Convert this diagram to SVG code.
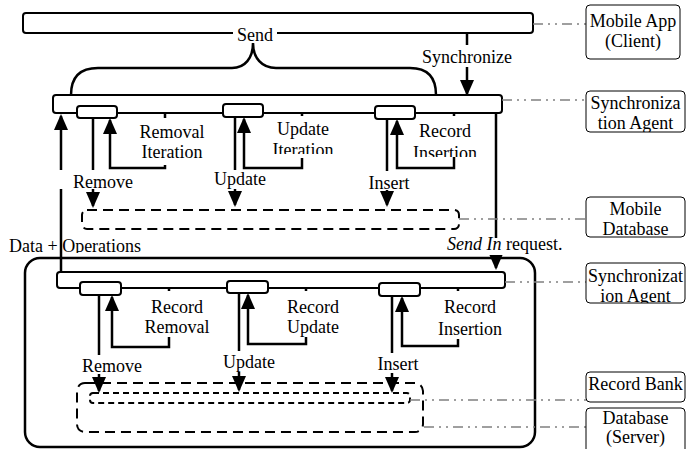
<svg xmlns="http://www.w3.org/2000/svg" width="686" height="449" viewBox="0 0 686 449">
<style>
.bar{fill:#fff;stroke:#000;stroke-width:2}
.sb{fill:#fff;stroke:#000;stroke-width:2}
.ln{fill:none;stroke:#000;stroke-width:2.5}
.arr{marker-end:url(#ah)}
.t{font-family:"Liberation Serif","Times New Roman",serif;font-size:18px;fill:#000}
.c{text-anchor:middle}
.bg{fill:#fff}
.dash{fill:none;stroke:#000;stroke-width:2;stroke-dasharray:10 6}
.dash2{fill:none;stroke:#000;stroke-width:2;stroke-dasharray:6 4}
.conn{fill:none;stroke:#808080;stroke-width:1.6;stroke-dasharray:10 5 2 5 2 5}
.side{fill:#fff;stroke:#000;stroke-width:1}
.cont{fill:none;stroke:#000;stroke-width:2.5}
</style>
<defs>
<marker id="ah" viewBox="0 0 16 14" refX="14" refY="7" markerWidth="16" markerHeight="14" markerUnits="userSpaceOnUse" orient="auto">
<path d="M0,0 L16,7 L0,14 z" fill="#000"/>
</marker>
<clipPath id="k1"><rect x="586" y="5" width="94" height="54" rx="4"/></clipPath>
<clipPath id="k2"><rect x="586" y="91" width="99" height="41" rx="4"/></clipPath>
<clipPath id="k3"><rect x="586" y="197" width="99" height="40" rx="4"/></clipPath>
<clipPath id="k4"><rect x="586" y="263" width="99" height="40" rx="4"/></clipPath>
<clipPath id="k5"><rect x="586" y="372" width="99" height="30" rx="4"/></clipPath>
<clipPath id="k6"><rect x="586" y="408" width="99" height="50" rx="4"/></clipPath>
<clipPath id="kl1"><rect x="270" y="114" width="66" height="40"/></clipPath>
<clipPath id="kl2"><rect x="410" y="114" width="72" height="43"/></clipPath>
<clipPath id="kl3"><rect x="0" y="230" width="200" height="23"/></clipPath>
</defs>

<g id="server-container"><rect class="cont" x="25" y="258" width="510" height="189" rx="15"/></g>
<g id="mobile-app-bar"><rect class="bar" x="23" y="13" width="510" height="20" rx="3"/></g>
<g id="client-agent-bar"><rect class="bar" x="53" y="95" width="449" height="18" rx="3"/></g>
<g id="server-agent-bar"><rect class="bar" x="57" y="272" width="448" height="16" rx="3"/></g>
<g id="mobile-database"><rect class="dash" x="82" y="210" width="377" height="19" rx="5"/></g>
<g id="server-database"><rect class="dash" x="77" y="383" width="346" height="49" rx="8"/></g>
<g id="record-bank"><rect class="dash2" x="90" y="393" width="320" height="10" rx="3"/></g>

<g id="connectors">
<path class="ln" d="M71,95 Q71,68 98,68 L232,68 C245,68 253,58 253,43 C253,58 262,68 276,68 L410,68 Q436,68 436,95"/>
<line class="ln arr" x1="467" y1="33" x2="467" y2="94"/>
<line class="ln arr" x1="61" y1="272" x2="61" y2="116"/>
<line class="ln arr" x1="496" y1="113" x2="496" y2="268"/>
<line class="ln arr" x1="93" y1="118" x2="93" y2="206"/>
<path class="ln arr" d="M165,113 L165,168 L110,168 L110,120"/>
<line class="ln arr" x1="235" y1="117" x2="235" y2="205"/>
<path class="ln arr" d="M302,113 L302,168 L244,168 L244,119"/>
<line class="ln arr" x1="387" y1="119" x2="387" y2="205"/>
<path class="ln arr" d="M454,113 L454,168 L397,168 L397,121"/>
<line class="ln arr" x1="99" y1="295" x2="99" y2="391"/>
<path class="ln arr" d="M169,288 L169,347 L112,347 L112,297"/>
<line class="ln arr" x1="239" y1="293" x2="239" y2="390"/>
<path class="ln arr" d="M306,288 L306,344 L248,344 L248,295"/>
<line class="ln arr" x1="392" y1="296" x2="392" y2="391"/>
<path class="ln arr" d="M458,288 L458,346 L402,346 L402,298"/>
<line class="conn" x1="533" y1="24" x2="586" y2="24"/>
<line class="conn" x1="502" y1="100" x2="586" y2="100"/>
<line class="conn" x1="459" y1="219" x2="586" y2="219"/>
<line class="conn" x1="505" y1="282" x2="586" y2="282"/>
<line class="conn" x1="410" y1="400" x2="586" y2="400"/>
<line class="conn" x1="424" y1="427" x2="586" y2="427"/>
</g>

<g id="labels">
<rect class="bg" x="233" y="26" width="44" height="16"/>
<text class="t c" x="255" y="41">Send</text>
<rect class="bg" x="420" y="45" width="94" height="22"/>
<text class="t c" x="467" y="63">Synchronize</text>
<rect class="bg" x="140" y="118" width="66" height="47"/>
<text class="t c" x="172" y="138">Removal</text>
<text class="t c" x="172" y="158">Iteration</text>
<rect class="bg" x="272" y="116" width="62" height="42"/>
<g clip-path="url(#kl1)"><text class="t c" x="303" y="135">Update</text><text class="t c" x="303" y="156">Iteration</text></g>
<rect class="bg" x="412" y="116" width="68" height="41"/>
<g clip-path="url(#kl2)"><text class="t c" x="445" y="137">Record</text><text class="t c" x="445" y="159">Insertion</text></g>
<rect class="bg" x="58" y="170" width="90" height="19"/>
<text class="t c" x="103" y="188">Remove</text>
<rect class="bg" x="212" y="170" width="56" height="19"/>
<text class="t c" x="240" y="185">Update</text>
<rect class="bg" x="366" y="171" width="46" height="19"/>
<text class="t c" x="389" y="189">Insert</text>
<g clip-path="url(#kl3)"><text class="t" x="9" y="252">Data + Operations</text></g>
<rect class="bg" x="445" y="238" width="119" height="17"/>
<text class="t" x="447" y="250"><tspan font-style="italic">Send In</tspan> request.</text>
<rect class="bg" x="143" y="291" width="68" height="46"/>
<text class="t c" x="177" y="313">Record</text>
<text class="t c" x="177" y="333">Removal</text>
<rect class="bg" x="285" y="291" width="56" height="46"/>
<text class="t c" x="313" y="313">Record</text>
<text class="t c" x="313" y="333">Update</text>
<rect class="bg" x="437" y="291" width="66" height="48"/>
<text class="t c" x="470" y="313">Record</text>
<text class="t c" x="470" y="335">Insertion</text>
<rect class="bg" x="81" y="355" width="62" height="19"/>
<text class="t c" x="112" y="372">Remove</text>
<rect class="bg" x="222" y="351" width="54" height="21"/>
<text class="t c" x="249" y="368">Update</text>
<rect class="bg" x="376" y="353" width="44" height="20"/>
<text class="t c" x="398" y="370">Insert</text>
</g>

<g id="client-remove-box"><rect class="sb" x="77" y="106" width="40" height="12" rx="3"/></g>
<g id="client-update-box"><rect class="sb" x="223" y="104" width="40" height="13" rx="3"/></g>
<g id="client-insert-box"><rect class="sb" x="375" y="106" width="40" height="13" rx="3"/></g>
<g id="server-remove-box"><rect class="sb" x="80" y="282" width="41" height="13" rx="3"/></g>
<g id="server-update-box"><rect class="sb" x="227" y="281" width="41" height="12" rx="3"/></g>
<g id="server-insert-box"><rect class="sb" x="379" y="283" width="41" height="13" rx="3"/></g>

<g id="legend-mobile-app"><rect class="side" x="586" y="5" width="94" height="54" rx="4"/><g clip-path="url(#k1)"><text class="t c" x="633" y="27">Mobile App</text><text class="t c" x="633" y="47">(Client)</text></g></g>
<g id="legend-sync-agent-1"><rect class="side" x="586" y="91" width="99" height="41" rx="4"/><g clip-path="url(#k2)"><text class="t c" x="635.5" y="109">Synchroniza</text><text class="t c" x="635.5" y="129">tion Agent</text></g></g>
<g id="legend-mobile-db"><rect class="side" x="586" y="197" width="99" height="40" rx="4"/><g clip-path="url(#k3)"><text class="t c" x="635.5" y="215">Mobile</text><text class="t c" x="635.5" y="235">Database</text></g></g>
<g id="legend-sync-agent-2"><rect class="side" x="586" y="263" width="99" height="40" rx="4"/><g clip-path="url(#k4)"><text class="t c" x="635.5" y="282">Synchronizat</text><text class="t c" x="635.5" y="302">ion Agent</text></g></g>
<g id="legend-record-bank"><rect class="side" x="586" y="372" width="99" height="30" rx="4"/><g clip-path="url(#k5)"><text class="t c" x="635.5" y="390">Record Bank</text></g></g>
<g id="legend-server-db"><rect class="side" x="586" y="408" width="99" height="50" rx="4"/><g clip-path="url(#k6)"><text class="t c" x="635.5" y="424">Database</text><text class="t c" x="635.5" y="443">(Server)</text></g></g>
</svg>
